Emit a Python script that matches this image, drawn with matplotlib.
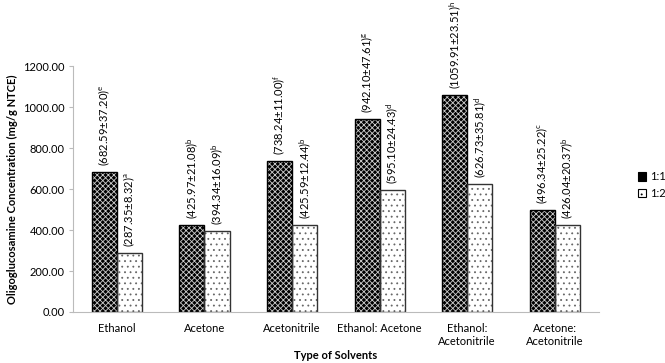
import matplotlib
matplotlib.use('Agg')
import matplotlib.pyplot as plt
import numpy as np

plt.rcParams['font.family'] = ['Lato', 'DejaVu Sans']
plt.rcParams['mathtext.fontset'] = 'custom'
plt.rcParams['mathtext.rm'] = 'Lato'
plt.rcParams['hatch.linewidth'] = 0.6

solvents = ['Ethanol', 'Acetone', 'Acetonitrile', 'Ethanol: Acetone',
            'Ethanol:\nAcetonitrile', 'Acetone:\nAcetonitrile']
mean_11 = [682.59, 425.97, 738.24, 942.10, 1059.91, 496.34]
sd_11 = [37.20, 21.08, 11.00, 47.61, 23.51, 25.22]
let_11 = ['e', 'b', 'f', 'g', 'h', 'c']
mean_12 = [287.35, 394.34, 425.59, 595.10, 626.73, 426.04]
sd_12 = [8.32, 16.09, 12.44, 24.43, 35.81, 20.37]
let_12 = ['a', 'b', 'b', 'd', 'd', 'b']
yticks = [0, 200, 400, 600, 800, 1000, 1200]

fs = 8

fig = plt.figure(figsize=(6.65, 3.63), dpi=100)
ax = fig.add_axes([0.11, 0.1405, 0.79, 0.677])

x = np.arange(len(solvents))
w = 0.286

# fill + hatch, then outline on top
b1 = ax.bar(x - w/2, mean_11, w, color='black', edgecolor='#cccccc', hatch='xxxxxx', linewidth=0)
b2 = ax.bar(x + w/2, mean_12, w, color='white', edgecolor='#666666', hatch='...', linewidth=0)
ax.bar(x - w/2, mean_11, w, fill=False, edgecolor='black', linewidth=1.0)
ax.bar(x + w/2, mean_12, w, fill=False, edgecolor='#333333', linewidth=1.0)

for i in range(len(x)):
    ax.text(x[i] - w/2, mean_11[i] + 30, '(%.2f±%.2f)$^{\\mathrm{%s}}$' % (mean_11[i], sd_11[i], let_11[i]),
            rotation=90, ha='center', va='bottom', fontsize=fs, clip_on=False)
    ax.text(x[i] + w/2, mean_12[i] + 30, '(%.2f±%.2f)$^{\\mathrm{%s}}$' % (mean_12[i], sd_12[i], let_12[i]),
            rotation=90, ha='center', va='bottom', fontsize=fs, clip_on=False)

ax.set_xlim(-0.5, len(x) - 0.5)
ax.set_ylim(0, 1200)
ax.set_yticks(yticks)
ax.set_yticklabels(['%.2f' % v for v in yticks], fontsize=fs)
ax.set_xticks(x)
ax.set_xticklabels(solvents, fontsize=fs)
ax.tick_params(axis='x', length=0, pad=8)
ax.tick_params(axis='y', length=3, color='#bbbbbb', pad=3)
for s in ['top', 'right']:
    ax.spines[s].set_visible(False)
for s in ['left', 'bottom']:
    ax.spines[s].set_color('#bbbbbb')
    ax.spines[s].set_linewidth(0.8)

ax.set_ylabel('Oligoglucosamine Concentration (mg/g NTCE)', fontsize=fs, fontweight='bold', labelpad=4)
ax.set_xlabel('Type of Solvents', fontsize=fs, fontweight='bold', labelpad=2)

leg = fig.legend([b1, b2], ['1:1', '1:2'], loc='center left', bbox_to_anchor=(0.952, 0.49),
                 frameon=False, fontsize=fs, handlelength=0.8, handleheight=0.8,
                 handletextpad=0.3, labelspacing=0.5, borderaxespad=0)
for h in leg.legend_handles:
    h.set_linewidth(0.8)
    h.set_edgecolor('black')

fig.savefig('out.png', dpi=100)
